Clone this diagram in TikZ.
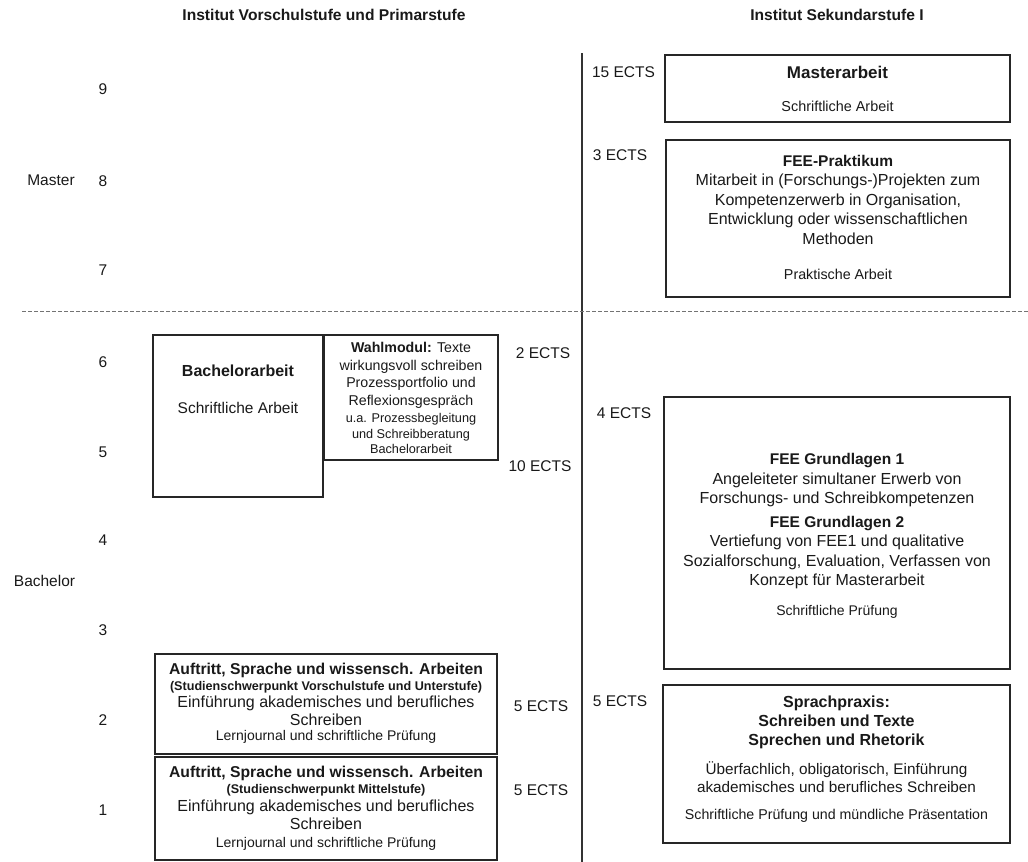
\documentclass[tikz,border=0pt]{standalone}
\usepackage{fontspec}
\setmainfont{Liberation Sans}
\newcommand\fz[2]{\fontsize{#1}{#2}\selectfont}
\begin{document}
\begin{tikzpicture}[x=1pt,y=-1pt,
  box/.style={draw=black!85, line width=1.1pt, inner sep=0pt},
  txt/.style={align=center, inner sep=0pt, text=black!90},
  lbl/.style={inner sep=0pt, text=black!90, font=\fz{15.5}{18}},
  hdr/.style={inner sep=0pt, text=black!90, font=\bfseries\fz{15.6}{18}}]
\useasboundingbox (0,0) rectangle (1028,862);

% headers
\node[hdr] (h1) at (324,15) {Institut Vorschulstufe und Primarstufe};
\node[hdr] (h2) at (837,15) {Institut Sekundarstufe I};

% separators
\coordinate (vtop) at (582,53);
\coordinate (vbot) at (582,862);
\draw[line width=1.5pt, black!80] (vtop) -- (vbot);
\coordinate (dl) at (22,311);
\coordinate (dr) at (1028,311);
\draw[black!55, line width=0.8pt, dash pattern=on 4pt off 2pt] (dl) -- (dr);

% level labels
\node[lbl] (master) at (51,180) {Master};
\node[lbl] (bachelor) at (44.5,581) {Bachelor};

% semesters
\node[lbl] (s9) at (103,89) {9};
\node[lbl] (s8) at (103,181) {8};
\node[lbl] (s7) at (103,270) {7};
\node[lbl] (s6) at (103,362) {6};
\node[lbl] (s5) at (103,452) {5};
\node[lbl] (s4) at (103,540) {4};
\node[lbl] (s3) at (103,630) {3};
\node[lbl] (s2) at (103,720) {2};
\node[lbl] (s1) at (103,810) {1};

% ECTS labels
\node[lbl] (e15) at (623.5,72) {15 ECTS};
\node[lbl] (e3) at (620,155) {3 ECTS};
\node[lbl] (e2) at (543,353) {2 ECTS};
\node[lbl] (e10) at (540,466) {10 ECTS};
\node[lbl] (e4) at (624,413) {4 ECTS};
\node[lbl] (e5a) at (541,706) {5 ECTS};
\node[lbl] (e5b) at (541,790) {5 ECTS};
\node[lbl] (e5c) at (620,701) {5 ECTS};

% Masterarbeit
\node[box, minimum width=345pt, minimum height=67pt] (ma) at (837.5,88.5) {};
\node[txt, font=\fz{16}{20}] (mat) at (837.5,89) {{\bfseries\fz{17}{20}Masterarbeit}\\[13pt]{\fz{14.4}{20}Schriftliche Arbeit}};

% FEE-Praktikum
\node[box, minimum width=344pt, minimum height=157pt] (fp) at (838,218.5) {};
\node[txt, font=\fz{16}{19.5}] (fpt) at (838,217) {{\bfseries\fz{15.5}{19.5}FEE-Praktikum}\\Mitarbeit in (Forschungs-)Projekten zum\\Kompetenzerwerb in Organisation,\\Entwicklung oder wissenschaftlichen\\Methoden\\[15.5pt]{\fz{14.3}{19.5}Praktische Arbeit}};

% Bachelorarbeit
\node[box, minimum width=170pt, minimum height=162pt] (ba) at (238,416) {};
\node[txt, font=\fz{15.5}{20}] (bat) at (238,389) {{\bfseries\fz{16}{20}Bachelorarbeit}\\[17pt]Schriftliche Arbeit};

% Wahlmodul
\node[box, minimum width=174pt, minimum height=125pt] (wm) at (411,397.5) {};
\node[txt, font=\fz{14.2}{17.5}] (wmt) at (411,398) {{\bfseries Wahlmodul:} Texte\\wirkungsvoll schreiben\\Prozessportfolio und\\Reflexionsgespräch\\[-0.5pt]{\fz{12.7}{17.5}u.a. Prozessbegleitung}\\[-1.5pt]{\fz{12.7}{17.5}und Schreibberatung}\\[-2.5pt]{\fz{12.7}{17.5}Bachelorarbeit}};

% FEE Grundlagen
\node[box, minimum width=346pt, minimum height=272pt] (fg) at (837,533) {};
\node[txt, font=\fz{16}{19.5}] (fgt) at (837,536) {{\bfseries\fz{15.5}{19.5}FEE Grundlagen 1}\\Angeleiteter simultaner Erwerb von\\Forschungs- und Schreibkompetenzen\\[4pt]{\bfseries\fz{15.5}{19.5}FEE Grundlagen 2}\\Vertiefung von FEE1 und qualitative\\Sozialforschung, Evaluation, Verfassen von\\Konzept für Masterarbeit\\[10pt]{\fz{14}{19.5}Schriftliche Prüfung}};

% Auftritt 1
\node[box, minimum width=342pt, minimum height=100pt] (a1) at (326,704) {};
\node[txt, font=\fz{16}{17.5}] (a1t) at (326,703.5) {{\bfseries\fz{15.7}{17.5}Auftritt, Sprache und wissensch. Arbeiten}\\[-1.5pt]{\bfseries\fz{12.6}{17.5}(Studienschwerpunkt Vorschulstufe und Unterstufe)}\\[-1pt]Einführung akademisches und berufliches\\[0.5pt]Schreiben\\[-2.5pt]{\fz{14}{17.5}Lernjournal und schriftliche Prüfung}};

% Auftritt 2
\node[box, minimum width=342pt, minimum height=103pt] (a2) at (326,808.5) {};
\node[txt, font=\fz{16}{17.5}] (a2t) at (326,808) {{\bfseries\fz{15.7}{17.5}Auftritt, Sprache und wissensch. Arbeiten}\\[-1pt]{\bfseries\fz{12.6}{17.5}(Studienschwerpunkt Mittelstufe)}\\Einführung akademisches und berufliches\\[0.5pt]Schreiben\\[0.5pt]{\fz{14}{17.5}Lernjournal und schriftliche Prüfung}};

% Sprachpraxis
\node[box, minimum width=347pt, minimum height=158pt] (sp) at (836.5,764) {};
\node[txt, font=\fz{15.3}{19}] (spt) at (836.5,759.5) {{\bfseries\fz{16}{19}Sprachpraxis:}\\{\bfseries\fz{16}{19}Schreiben und Texte}\\{\bfseries\fz{16}{19}Sprechen und Rhetorik}\\[10pt]Überfachlich, obligatorisch, Einführung\\[-1pt]akademisches und berufliches Schreiben\\[8pt]{\fz{14.2}{19}Schriftliche Prüfung und mündliche Präsentation}};
\end{tikzpicture}
\end{document}
